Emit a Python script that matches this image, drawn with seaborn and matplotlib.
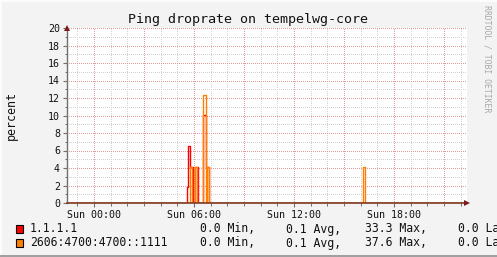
import matplotlib
matplotlib.use("Agg")
import matplotlib.pyplot as plt
import seaborn as sns
import pandas as pd
import numpy as np

# ---- data (hours relative to Sun 00:00, step values in percent) ----
red_hours = [-1.62, 5.56, 5.64, 5.76, 5.94, 6.06, 6.24, 6.54, 6.70, 6.90, 22.38]
red_values = [0.0, 1.8, 6.5, 4.1, 0.0, 4.1, 0.0, 10.1, 4.1, 0.0, 0.0]

orange_hours = [-1.62, 5.76, 5.88, 6.06, 6.18, 6.54, 6.70, 6.76, 6.90, 16.14, 16.28, 22.38]
orange_values = [0.0, 4.1, 0.0, 4.1, 0.0, 12.4, 0.0, 4.1, 0.0, 4.1, 0.0, 0.0]

series_names = ["1.1.1.1", "2606:4700:4700::1111"]
series_colors = ["#ff0000", "#ff8000"]
x_tick_hours = [0, 6, 12, 18]
x_tick_labels = ["Sun 00:00", "Sun 06:00", "Sun 12:00", "Sun 18:00"]
y_ticks = list(range(0, 21, 2))
legend_min = ["0.0 Min,", "0.0 Min,"]
legend_avg = ["0.1 Avg,", "0.1 Avg,"]
legend_max = ["33.3 Max,", "37.6 Max,"]
legend_last = ["0.0 Last", "0.0 Last"]

title = "Ping droprate on tempelwg-core"
ylabel = "percent"
watermark = "RRDTOOL / TOBI OETIKER"

# ---- figure ----
sns.set_theme(style="white")
plt.rcParams["font.family"] = ["DejaVu Sans Mono"]

W, H = 497, 257
fig = plt.figure(figsize=(W / 100, H / 100), dpi=100)
fig.patch.set_facecolor("#f3f3f3")

def fx(x):
    return x / W

def fy(y):
    return 1 - y / H

L, R, T, B = 67, 467, 28, 203
ax = fig.add_axes([fx(L), fy(B), (R - L) / W, (B - T) / H])
ax.set_facecolor("white")
XMIN, XMAX = -1.62, 22.38
ax.set_xlim(XMIN, XMAX)
ax.set_ylim(0, 20)

# grid
dot = (0, (1, 2))
lw = 0.72
for h in range(-1, 23):
    col = "#e39a9a" if h % 3 == 0 else "#d2d2d2"
    ax.axvline(h, color=col, lw=lw, ls=dot, zorder=1, antialiased=False)
for v in range(1, 21):
    col = "#e39a9a" if v % 2 == 0 else "#d2d2d2"
    ax.axhline(v, color=col, lw=lw, ls=dot, zorder=1, antialiased=False)

# data
df_red = pd.DataFrame({"hour": red_hours, "value": red_values})
df_orange = pd.DataFrame({"hour": orange_hours, "value": orange_values})
sns.lineplot(data=df_red, x="hour", y="value", ax=ax, color=series_colors[0],
             drawstyle="steps-post", lw=1.0, estimator=None, zorder=3)
sns.lineplot(data=df_orange, x="hour", y="value", ax=ax, color=series_colors[1],
             drawstyle="steps-post", lw=1.0, estimator=None, zorder=4)

# axes lines / spines
for s in ["top", "right"]:
    ax.spines[s].set_visible(False)
ax.spines["left"].set_color("#6f6f6f")
ax.spines["left"].set_linewidth(1.0)
ax.spines["bottom"].set_color("#7f3a22")
ax.spines["bottom"].set_linewidth(1.2)
ax.spines["bottom"].set_zorder(6)

# arrows
ax.plot([0], [1.0], transform=ax.transAxes, marker="^", ms=4.5, color="#7a1c1c",
        clip_on=False, zorder=7, markeredgewidth=0)
ax.plot([1.0], [0], transform=ax.transAxes, marker=">", ms=4.5, color="#7a1c1c",
        clip_on=False, zorder=7, markeredgewidth=0)

# ticks
ax.set_xticks(x_tick_hours)
ax.set_xticklabels(x_tick_labels)
ax.set_xticks(list(range(-1, 23)), minor=True)
ax.set_yticks(y_ticks)
ax.set_yticklabels([str(v) for v in y_ticks])
ax.set_yticks(list(range(1, 21, 2)), minor=True)
ax.tick_params(axis="both", which="major", length=3, width=0.8, color="#6f6f6f",
               labelsize=7.2, labelcolor="#111111", pad=2, direction="out")
ax.tick_params(axis="both", which="minor", length=1.8, width=0.7, color="#6f6f6f",
               direction="out")
ax.tick_params(axis="x", which="both", bottom=True)
ax.tick_params(axis="y", which="both", left=True)
ax.set_xlabel("")
ax.set_ylabel("")

# texts
fig.text(fx(248), fy(19), title, ha="center", va="center", fontsize=9.6, color="#111111")
fig.text(fx(11), fy(115), ylabel, ha="center", va="center", rotation=90, fontsize=8.4,
         color="#111111")
fig.text(fx(487), fy(5), watermark, ha="center", va="top", rotation=270, fontsize=5.9,
         color="#a8a8a8")

# legend
rows_y = [229, 243]
for i in range(2):
    yy = fy(rows_y[i])
    sq = plt.Rectangle((fx(16), fy(rows_y[i] + 4)), 7 / W, 8 / H, transform=fig.transFigure,
                       facecolor=series_colors[i], edgecolor="black", lw=0.8)
    fig.patches.append(sq)
    kw = dict(va="center", ha="left", fontsize=8.3, color="#111111")
    fig.text(fx(30), yy, series_names[i], **kw)
    fig.text(fx(200), yy, legend_min[i], **kw)
    fig.text(fx(286), yy, legend_avg[i], **kw)
    fig.text(fx(365), yy, legend_max[i], **kw)
    fig.text(fx(458), yy, legend_last[i], **kw)

# frame shade
fig.patches.append(plt.Rectangle((0, fy(2)), 1, 2 / H, transform=fig.transFigure,
                                 facecolor="#fcfcfc", edgecolor="none"))
fig.patches.append(plt.Rectangle((0, 0), 2 / W, 1, transform=fig.transFigure,
                                 facecolor="#fcfcfc", edgecolor="none"))
fig.patches.append(plt.Rectangle((0, 0), 1, 2 / H, transform=fig.transFigure,
                                 facecolor="#a0a0a0", edgecolor="none"))

fig.savefig("out.png", dpi=100, facecolor=fig.get_facecolor())
